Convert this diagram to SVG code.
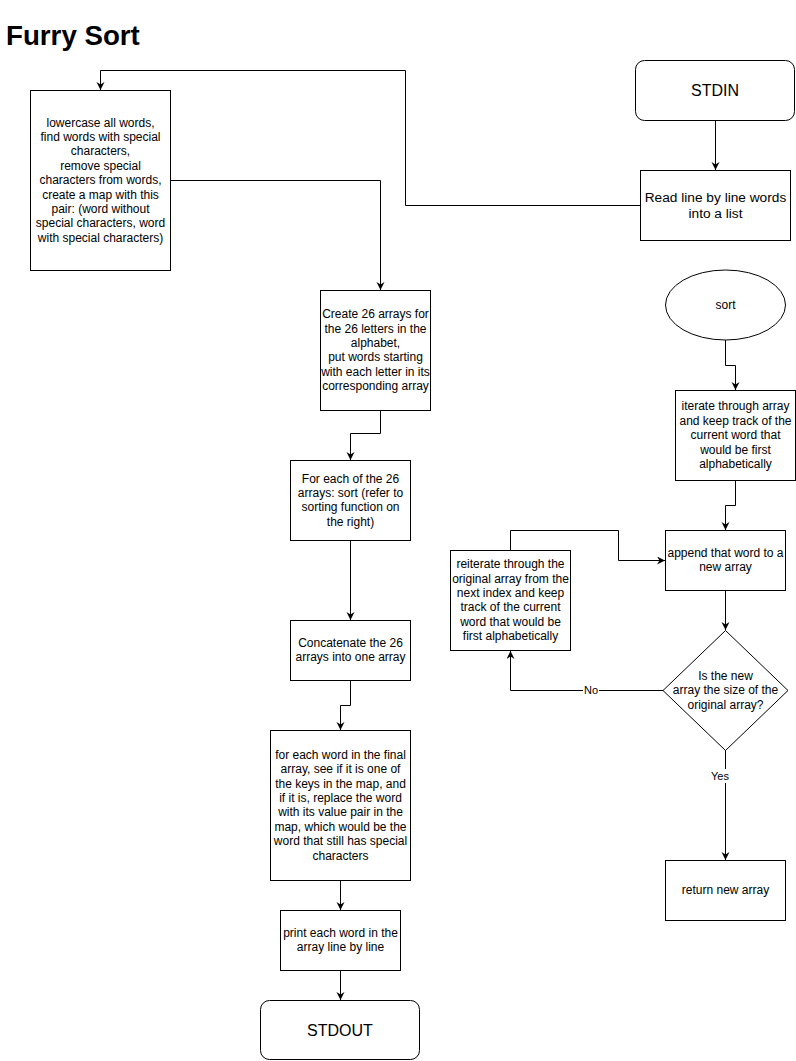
<svg xmlns="http://www.w3.org/2000/svg" width="796" height="1061" viewBox="0 0 796 1061">
<style>
.box{fill:#fff;stroke:#000;stroke-width:1}
.t{font-family:"Liberation Sans",Arial,sans-serif;font-size:12px;fill:#000;text-anchor:middle}
.t14{font-family:"Liberation Sans",Arial,sans-serif;font-size:13.7px;fill:#000;text-anchor:middle}
.t16{font-family:"Liberation Sans",Arial,sans-serif;font-size:16px;fill:#000;text-anchor:middle}
.lbl{font-family:"Liberation Sans",Arial,sans-serif;font-size:11px;fill:#000;text-anchor:middle}
.edge{fill:none;stroke:#000;stroke-width:1;marker-end:url(#arr)}
.plain{fill:none;stroke:#000;stroke-width:1}
</style>
<defs>
<marker id="arr" markerWidth="10" markerHeight="10" refX="8" refY="4" orient="auto" markerUnits="userSpaceOnUse">
<path d="M0,0 L8,4 L0,8 L2.5,4 z" fill="#000"/>
</marker>
</defs>
<rect width="796" height="1061" fill="#fff"/>
<text x="6" y="45" font-family="Liberation Sans,Arial,sans-serif" font-size="27.7" font-weight="bold" fill="#000">Furry Sort</text>

<g id="connectors">
<path class="edge" d="M640.5,205.5 L405.5,205.5 L405.5,70.5 L100.5,70.5 L100.5,90"/>
<path class="edge" d="M170.5,180.5 L380.5,180.5 L380.5,290"/>
<path class="edge" d="M715.5,120.5 L715.5,170"/>
<path class="edge" d="M380.5,410.5 L380.5,433.5 L350.5,433.5 L350.5,460"/>
<path class="edge" d="M350.5,540.5 L350.5,620"/>
<path class="edge" d="M350.5,680.5 L350.5,705.5 L340.5,705.5 L340.5,730"/>
<path class="edge" d="M340.5,880.5 L340.5,910"/>
<path class="edge" d="M340.5,970.5 L340.5,1000"/>
<path class="edge" d="M725.5,340 L725.5,365.5 L735.5,365.5 L735.5,390"/>
<path class="edge" d="M735.5,480.5 L735.5,505.5 L725.5,505.5 L725.5,530"/>
<path class="edge" d="M725.5,590.5 L725.5,630"/>
<path class="edge" d="M663,690.5 L510.5,690.5 L510.5,651"/>
<path class="edge" d="M510.5,550.5 L510.5,530.5 L618.5,530.5 L618.5,560.5 L665,560.5"/>
<path class="edge" d="M725.5,750 L725.5,860"/>
<rect x="583" y="683" width="16" height="14" fill="#fff"/>
<text class="lbl" x="591" y="694">No</text>
<rect x="710" y="769" width="20" height="14" fill="#fff"/>
<text class="lbl" x="720" y="780">Yes</text>
</g>

<g id="preprocess">
<rect class="box" x="30.5" y="90.5" width="140" height="180"/>
<text class="t" x="100.5"><tspan x="100.5" y="126.6">lowercase all words,</tspan><tspan x="100.5" y="141">find words with special</tspan><tspan x="100.5" y="155.4">characters,</tspan><tspan x="100.5" y="169.8">remove special</tspan><tspan x="100.5" y="184.2">characters from words,</tspan><tspan x="100.5" y="198.6">create a map with this</tspan><tspan x="100.5" y="213">pair: (word without</tspan><tspan x="100.5" y="227.4">special characters, word</tspan><tspan x="100.5" y="241.8">with special characters)</tspan></text>
</g>

<g id="stdin">
<rect class="box" x="635.5" y="60.5" width="159" height="60" rx="9" ry="9"/>
<text class="t16" x="715" y="95.7">STDIN</text>
</g>

<g id="readline">
<rect class="box" x="640.5" y="170.5" width="150" height="70"/>
<text class="t14"><tspan x="715.5" y="201.6">Read line by line words</tspan><tspan x="715.5" y="218.4">into a list</tspan></text>
</g>

<g id="create26">
<rect class="box" x="320.5" y="290.5" width="110" height="120"/>
<text class="t"><tspan x="375.5" y="318.2">Create 26 arrays for</tspan><tspan x="375.5" y="332.6">the 26 letters in the</tspan><tspan x="375.5" y="347">alphabet,</tspan><tspan x="375.5" y="361.4">put words starting</tspan><tspan x="375.5" y="375.8">with each letter in its</tspan><tspan x="375.5" y="390.2">corresponding array</tspan></text>
</g>

<g id="foreach26">
<rect class="box" x="290.5" y="460.5" width="120" height="80"/>
<text class="t"><tspan x="350.5" y="482.6">For each of the 26</tspan><tspan x="350.5" y="497">arrays: sort (refer to</tspan><tspan x="350.5" y="511.4">sorting function on</tspan><tspan x="350.5" y="525.8">the right)</tspan></text>
</g>

<g id="concat">
<rect class="box" x="290.5" y="620.5" width="120" height="60"/>
<text class="t"><tspan x="350.5" y="647">Concatenate the 26</tspan><tspan x="350.5" y="661.4">arrays into one array</tspan></text>
</g>

<g id="replace">
<rect class="box" x="270.5" y="730.5" width="140" height="150"/>
<text class="t"><tspan x="340.5" y="758.8">for each word in the final</tspan><tspan x="340.5" y="773.2">array, see if it is one of</tspan><tspan x="340.5" y="787.6">the keys in the map, and</tspan><tspan x="340.5" y="802">if it is, replace the word</tspan><tspan x="340.5" y="816.4">with its value pair in the</tspan><tspan x="340.5" y="830.8">map, which would be the</tspan><tspan x="340.5" y="845.2">word that still has special</tspan><tspan x="340.5" y="859.6">characters</tspan></text>
</g>

<g id="print">
<rect class="box" x="280.5" y="910.5" width="120" height="60"/>
<text class="t"><tspan x="340.5" y="937">print each word in the</tspan><tspan x="340.5" y="951.4">array line by line</tspan></text>
</g>

<g id="stdout">
<rect class="box" x="260.5" y="1000.5" width="159" height="59" rx="9" ry="9"/>
<text class="t16" x="340" y="1035.7">STDOUT</text>
</g>

<g id="sort">
<ellipse class="box" cx="725.5" cy="305" rx="60" ry="35"/>
<text class="t" x="725.5" y="309">sort</text>
</g>

<g id="iterate">
<rect class="box" x="675.5" y="390.5" width="120" height="90"/>
<text class="t"><tspan x="735.5" y="410.4">iterate through array</tspan><tspan x="735.5" y="424.8">and keep track of the</tspan><tspan x="735.5" y="439.2">current word that</tspan><tspan x="735.5" y="453.6">would be first</tspan><tspan x="735.5" y="468">alphabetically</tspan></text>
</g>

<g id="append">
<rect class="box" x="665.5" y="530.5" width="120" height="60"/>
<text class="t"><tspan x="725.5" y="557">append that word to a</tspan><tspan x="725.5" y="571.4">new array</tspan></text>
</g>

<g id="decision">
<polygon class="box" points="725.5,630.5 788,690.5 725.5,750.5 663,690.5"/>
<text class="t"><tspan x="725.5" y="679.8">Is the new</tspan><tspan x="725.5" y="694.2">array the size of the</tspan><tspan x="725.5" y="708.6">original array?</tspan></text>
</g>

<g id="reiterate">
<rect class="box" x="450.5" y="550.5" width="120" height="100"/>
<text class="t"><tspan x="510.5" y="568.2">reiterate through the</tspan><tspan x="510.5" y="582.6">original array from the</tspan><tspan x="510.5" y="597">next index and keep</tspan><tspan x="510.5" y="611.4">track of the current</tspan><tspan x="510.5" y="625.8">word that would be</tspan><tspan x="510.5" y="640.2">first alphabetically</tspan></text>
</g>

<g id="return">
<rect class="box" x="665.5" y="860.5" width="120" height="60"/>
<text class="t" x="725.5" y="894.2">return new array</text>
</g>
</svg>
